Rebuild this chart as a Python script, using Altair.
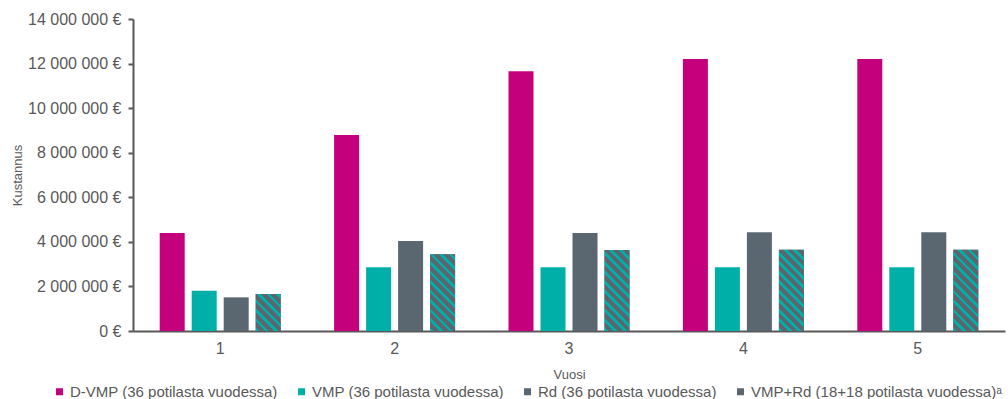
import altair as alt
import pandas as pd

# Annual cost per treatment arm, years 1-5
years = ["1", "2", "3", "4", "5"]
series = [
    "D-VMP (36 potilasta vuodessa)",
    "VMP (36 potilasta vuodessa)",
    "Rd (36 potilasta vuodessa)",
    "VMP+Rd (18+18 potilasta vuodessa)ᵃ",
]
d_vmp = [4_400_000, 8_790_000, 11_650_000, 12_200_000, 12_200_000]
vmp = [1_810_000, 2_860_000, 2_860_000, 2_860_000, 2_860_000]
rd = [1_510_000, 4_040_000, 4_400_000, 4_430_000, 4_430_000]
vmp_rd = [1_660_000, 3_440_000, 3_630_000, 3_650_000, 3_650_000]
y_ticks = [0, 2_000_000, 4_000_000, 6_000_000, 8_000_000, 10_000_000, 12_000_000, 14_000_000]

MAGENTA = "#C5007C"
TEAL = "#00B0A8"
GREY = "#5B6770"
TEXT = "#595959"
FONT = "Liberation Sans"

W, H = 872, 312
Y_MAX = 14_000_000
BAR_W = 25.0

rows = []
for si, (name, vals) in enumerate(zip(series, [d_vmp, vmp, rd, vmp_rd])):
    for y, v in zip(years, vals):
        rows.append({"year": y, "series": name, "s": si, "cost": v})
df = pd.DataFrame(rows)


def hatch(value, period=9.5, duty=0.38):
    """Diagonal stripe fill for one bar as a bounding-box linear gradient."""
    h = value / Y_MAX * H
    w = BAR_W
    c = (w + h) / (w * w + h * h)
    n = (w + h) / period
    stops = []
    k = 0
    while k < n:
        a = k / n
        b = min((k + duty) / n, 1.0)
        e = min((k + 1) / n, 1.0)
        stops += [(a, TEAL), (b, TEAL), (b, GREY), (e, GREY)]
        k += 1
    return alt.LinearGradient(
        gradient="linear",
        x1=0, y1=1, x2=c * w, y2=1 - c * h,
        stops=[alt.GradientStop(offset=o, color=col) for o, col in stops],
    )


x_enc = alt.X(
    "year:N",
    scale=alt.Scale(domain=years, paddingInner=0, paddingOuter=0),
    axis=alt.Axis(
        title="Vuosi", labelAngle=0, ticks=False, labelPadding=9,
        labelFontSize=16, labelColor=TEXT, titleFontSize=13,
        titleFontWeight="normal", titleColor=TEXT, titleY=47,
        titleBaseline="alphabetic", domainColor=TEXT, domainWidth=2,
        grid=False,
    ),
)
xo_enc = alt.XOffset(
    "series:N",
    scale=alt.Scale(domain=series, paddingInner=0.21875, paddingOuter=0.834375),
)
y_enc = alt.Y(
    "cost:Q",
    scale=alt.Scale(domain=[0, Y_MAX], nice=False),
    axis=alt.Axis(
        title="Kustannus", values=y_ticks,
        labelExpr="replace(format(datum.value, ',d'), /,/g, ' ') + ' €'",
        tickSize=5, tickWidth=2, tickColor=TEXT, domainColor=TEXT,
        domainWidth=2, labelPadding=7, labelFontSize=16, labelColor=TEXT,
        titleFontSize=13, titleFontWeight="normal", titleColor=TEXT,
        titleX=-111.5, titleY=H / 2, titleBaseline="alphabetic",
        grid=False,
    ),
)

base = alt.Chart(df).mark_bar().encode(
    x=x_enc,
    xOffset=xo_enc,
    y=y_enc,
    color=alt.Color(
        "series:N",
        scale=alt.Scale(domain=series, range=[MAGENTA, TEAL, GREY, GREY]),
        legend=alt.Legend(
            title=None, orient="none", legendX=-81, legendY=365,
            direction="horizontal", symbolType="square", symbolSize=49,
            symbolStrokeWidth=0, labelFontSize=15, labelColor=TEXT,
            labelOffset=3, columnPadding=16, labelLimit=0,
        ),
    ),
)

# Striped overlay for the combination arm, one bar per year
stripes = [
    alt.Chart(df)
    .transform_filter(f"datum.s == 3 && datum.year == '{y}'")
    .mark_bar(fill=hatch(v))
    .encode(x=x_enc, xOffset=xo_enc, y=y_enc)
    for y, v in zip(years, vmp_rd)
]

chart = (
    alt.layer(base, *stripes)
    .properties(
        width=W, height=H,
        autosize=alt.AutoSizeParams(type="none"),
        padding={"left": 133, "top": 19, "right": 3, "bottom": 68},
        background="white",
    )
    .configure(font=FONT)
    .configure_view(stroke=None)
)

chart.save("out.html", embed_options={"renderer": "svg", "actions": False})
